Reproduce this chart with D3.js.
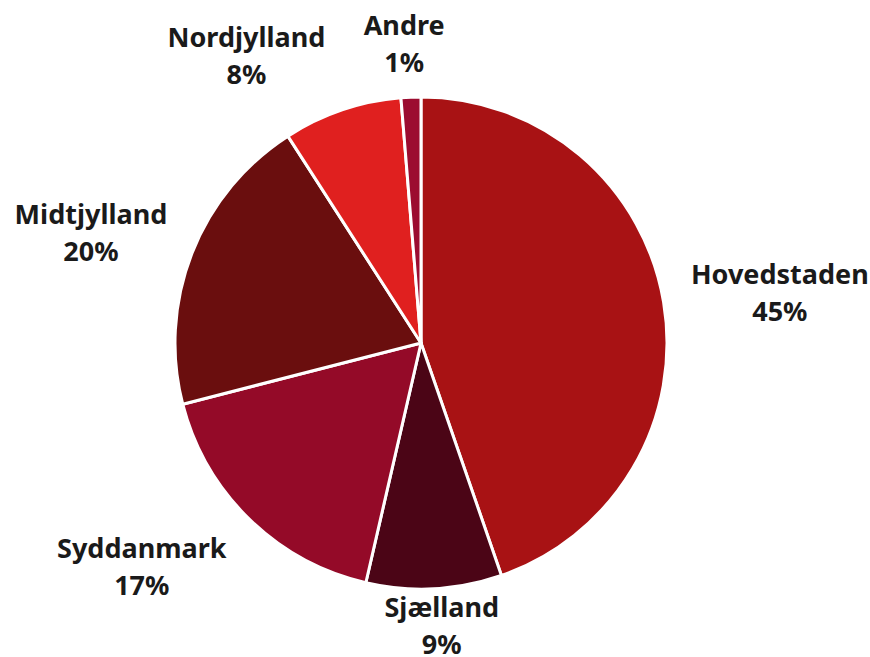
<!DOCTYPE html>
<html><head><meta charset="utf-8">
<script src="https://cdn.jsdelivr.net/npm/d3@7"></script>
<style>html,body{margin:0;padding:0;background:#fff;}</style>
</head><body>
<svg id="chart" width="870" height="657"></svg>
<script>
const categories = ["Hovedstaden", "Sjælland", "Syddanmark", "Midtjylland", "Nordjylland", "Andre"];
const values = [44.7, 8.9, 17.4, 19.9, 7.8, 1.3];
const colors = ["#a81214", "#4b0516", "#940a28", "#6a0e0e", "#e0201f", "#9c0c30"];
// small label nudges (collision avoidance), in px
const labelNudgeX = [0, 3, -28, -3, -61, -4];
const labelNudgeY = [0, -21, 6, 0, 0, 4];

const W = 870, H = 657;
const cx = 421, cy = 343, R = 246;
const svg = d3.select("#chart");
const g = svg.append("g").attr("transform", `translate(${cx},${cy})`);

const total = d3.sum(values);
const pie = d3.pie().sort(null).value(d => d.v);
const data = pie(categories.map((c, i) => ({c, v: values[i], col: colors[i], i})));
const arc = d3.arc().innerRadius(0).outerRadius(R);

g.selectAll("path").data(data).join("path")
  .attr("d", arc)
  .attr("fill", d => d.data.col)
  .attr("stroke", "#fff")
  .attr("stroke-width", 3)
  .attr("stroke-linejoin", "round");

const fs = 27, lh = 37, blockH = 57;
const labR = 275;
const lab = g.selectAll("text.lab").data(data).join("text").attr("class", "lab")
  .attr("font-family", "'Noto Sans', 'Open Sans', sans-serif")
  .attr("font-weight", "bold")
  .attr("font-size", fs)
  .attr("fill", "#1a1a1a")
  .attr("text-anchor", "middle");
lab.append("tspan").attr("class", "l1").attr("x", 0).attr("y", 0).text(d => d.data.c);
lab.append("tspan").attr("class", "l2").attr("x", 0).attr("y", lh)
  .text(d => Math.round(d.data.v / total * 100) + "%");
lab.each(function(d) {
  const a = (d.startAngle + d.endAngle) / 2;
  const s = Math.sin(a), c = Math.cos(a);
  const w = this.getBBox().width;
  const bx = labR * s + (w / 2) * s + labelNudgeX[d.data.i];
  const by = -labR * c - (blockH / 2) * c + labelNudgeY[d.data.i];
  d3.select(this).attr("transform", `translate(${bx},${by - 8.5})`);
});
</script>
</body></html>
